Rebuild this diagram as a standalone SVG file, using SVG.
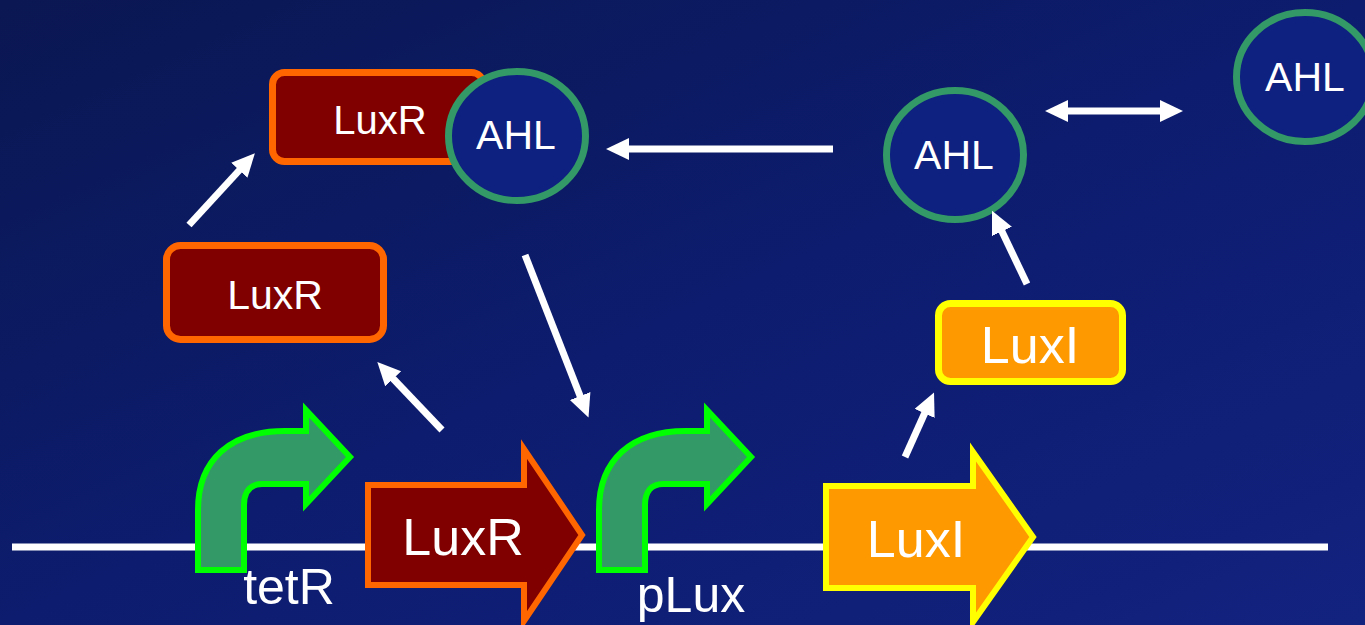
<svg xmlns="http://www.w3.org/2000/svg" width="1365" height="625" viewBox="0 0 1365 625">
  <defs>
    <linearGradient id="bg" x1="0" y1="0" x2="1" y2="1">
      <stop offset="0" stop-color="#0a1752"/>
      <stop offset="0.5" stop-color="#0d1c6e"/>
      <stop offset="1" stop-color="#12227f"/>
    </linearGradient>
    <marker id="head" markerUnits="userSpaceOnUse" markerWidth="24" markerHeight="24" refX="1" refY="11" orient="auto-start-reverse">
      <path d="M0,0 L23,11 L0,22 Z" fill="#ffffff"/>
    </marker>
    <style>
      .lbl { font-family: "Liberation Sans", Arial, Helvetica, sans-serif; fill: #ffffff; text-anchor: middle; }
      .promoter { fill: #339966; stroke: #00ff00; stroke-width: 6; stroke-linejoin: miter; }
      .gene-r { fill: #800000; stroke: #ff6600; stroke-width: 6; stroke-linejoin: miter; }
      .gene-i { fill: #ff9900; stroke: #ffff00; stroke-width: 6; stroke-linejoin: miter; }
      .prot-r { fill: #800000; stroke: #ff6600; stroke-width: 7; }
      .prot-i { fill: #ff9900; stroke: #ffff00; stroke-width: 7; }
      .ahl { fill: #0e2080; stroke: #339966; stroke-width: 7; }
      .conn { stroke: #ffffff; stroke-width: 7; fill: none; marker-end: url(#head); }
    </style>
  </defs>

  <rect x="0" y="0" width="1365" height="625" fill="url(#bg)"/>

  <!-- DNA strand -->
  <g id="dna">
    <line x1="12" y1="547" x2="1328" y2="547" stroke="#ffffff" stroke-width="7"/>
  </g>

  <!-- tetR promoter -->
  <g id="promoter-tetR">
    <path class="promoter" d="M198,570 L198,510 C198,460 230,431 285,431 L306,431 L306,410 L350,457 L306,504 L306,484 L262,484 C250,484 244,492 244,505 L244,570 Z"/>
    <text class="lbl" x="289" y="604" font-size="50">tetR</text>
  </g>

  <!-- LuxR coding region -->
  <g id="gene-LuxR">
    <path class="gene-r" d="M368,485 L524,485 L524,449 L582,535 L524,621 L524,585 L368,585 Z"/>
    <text class="lbl" x="463" y="555" font-size="52">LuxR</text>
  </g>

  <!-- pLux promoter -->
  <g id="promoter-pLux">
    <path class="promoter" transform="translate(401,0)" d="M198,570 L198,510 C198,460 230,431 285,431 L306,431 L306,410 L350,457 L306,504 L306,484 L262,484 C250,484 244,492 244,505 L244,570 Z"/>
    <text class="lbl" x="691" y="612" font-size="50">pLux</text>
  </g>

  <!-- LuxI coding region -->
  <g id="gene-LuxI">
    <path class="gene-i" d="M826,486 L973,486 L973,452 L1033,537 L973,622 L973,588 L826,588 Z"/>
    <text class="lbl" x="916" y="557" font-size="52">LuxI</text>
  </g>

  <!-- LuxR protein -->
  <g id="protein-LuxR">
    <rect class="prot-r" x="166.5" y="245.5" width="217" height="94" rx="14"/>
    <text class="lbl" x="275" y="309" font-size="41">LuxR</text>
  </g>

  <!-- LuxR-AHL complex -->
  <g id="complex-LuxR-AHL">
    <rect class="prot-r" x="272.5" y="72.5" width="211" height="89" rx="12"/>
    <text class="lbl" x="380" y="134" font-size="40">LuxR</text>
    <ellipse class="ahl" cx="517" cy="136" rx="68.5" ry="64.5"/>
    <text class="lbl" x="516" y="149" font-size="41">AHL</text>
  </g>

  <!-- LuxI protein -->
  <g id="protein-LuxI">
    <rect class="prot-i" x="938.5" y="303.5" width="184" height="78" rx="12"/>
    <text class="lbl" x="1030" y="363" font-size="52">LuxI</text>
  </g>

  <!-- AHL inside the cell -->
  <g id="ahl-inner">
    <ellipse class="ahl" cx="955" cy="155" rx="68.5" ry="64.5"/>
    <text class="lbl" x="954" y="169" font-size="41">AHL</text>
  </g>

  <!-- AHL outside the cell -->
  <g id="ahl-outer">
    <ellipse class="ahl" cx="1305" cy="77" rx="68.5" ry="64.5"/>
    <text class="lbl" x="1305" y="91" font-size="41">AHL</text>
  </g>

  <!-- connectors -->
  <g id="connectors">
    <line class="conn" x1="189" y1="225" x2="240" y2="169.5"/>
    <line class="conn" x1="442" y1="430" x2="392.5" y2="378"/>
    <line class="conn" x1="525" y1="255" x2="580.5" y2="397"/>
    <line class="conn" x1="833" y1="149" x2="628" y2="149"/>
    <line class="conn" x1="905" y1="457" x2="925" y2="412.5"/>
    <line class="conn" x1="1027" y1="284" x2="1001.5" y2="230.5"/>
    <line class="conn" x1="1067" y1="111" x2="1161" y2="111" marker-start="url(#head)"/>
  </g>
</svg>
